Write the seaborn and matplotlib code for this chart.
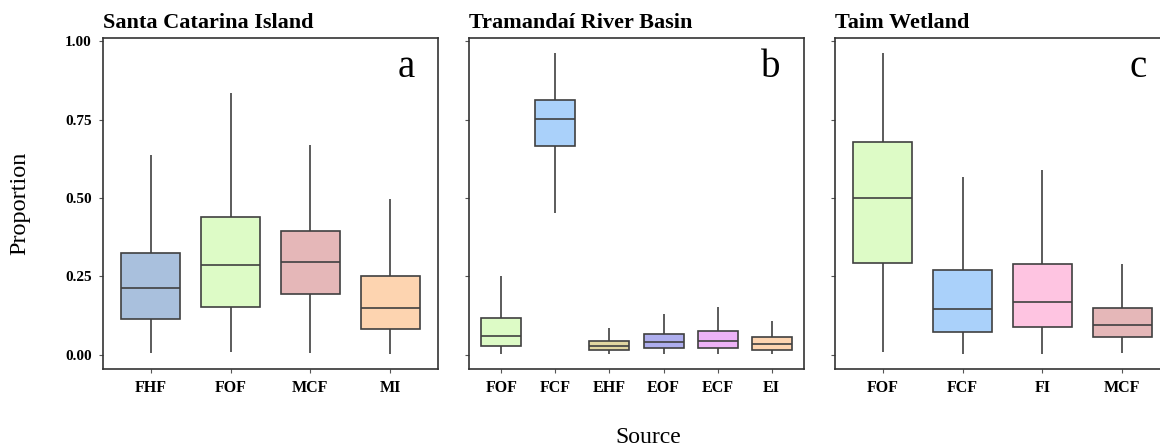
import numpy as np
import pandas as pd
import matplotlib
matplotlib.use("Agg")
import matplotlib.pyplot as plt
import seaborn as sns

# Five-number summaries per source: (min, Q1, median, Q3, max)
sci_sources = ["FHF", "FOF", "MCF", "MI"]
sci_min = [0.005, 0.007, 0.005, 0.002]
sci_q1 = [0.115, 0.152, 0.193, 0.082]
sci_med = [0.213, 0.286, 0.296, 0.149]
sci_q3 = [0.324, 0.439, 0.396, 0.252]
sci_max = [0.638, 0.835, 0.670, 0.497]

trb_sources = ["FOF", "FCF", "EHF", "EOF", "ECF", "EI"]
trb_min = [0.002, 0.452, 0.002, 0.002, 0.002, 0.002]
trb_q1 = [0.029, 0.667, 0.016, 0.020, 0.021, 0.016]
trb_med = [0.059, 0.752, 0.027, 0.039, 0.045, 0.034]
trb_q3 = [0.117, 0.812, 0.043, 0.066, 0.074, 0.055]
trb_max = [0.250, 0.963, 0.085, 0.130, 0.151, 0.108]

tw_sources = ["FOF", "FCF", "FI", "MCF"]
tw_min = [0.009, 0.002, 0.002, 0.004]
tw_q1 = [0.293, 0.073, 0.087, 0.055]
tw_med = [0.500, 0.147, 0.169, 0.095]
tw_q3 = [0.680, 0.271, 0.289, 0.149]
tw_max = [0.963, 0.566, 0.589, 0.289]

panel_titles = ["Santa Catarina Island", "Tramandaí River Basin", "Taim Wetland"]
panel_letters = ["a", "b", "c"]
y_ticks = [0.00, 0.25, 0.50, 0.75, 1.00]

source_colors = {
    "FHF": "#A9C0DD",
    "FOF": "#DDFBC6",
    "MCF": "#E5B7B8",
    "MI": "#FDD4B0",
    "FCF": "#AAD1FA",
    "EHF": "#E0D6A0",
    "EOF": "#AEAEEE",
    "ECF": "#EDB2F7",
    "EI": "#FDD4B0",
    "FI": "#FEC4E1",
}


def summary_frame(sources, mins, q1s, meds, q3s, maxs):
    # Five points per source reproduce the summary exactly with whiskers at min/max
    rows = []
    for s, a, b, c, d, e in zip(sources, mins, q1s, meds, q3s, maxs):
        for v in (a, b, c, d, e):
            rows.append({"Source": s, "Proportion": v})
    return pd.DataFrame(rows)


frames = [
    (summary_frame(sci_sources, sci_min, sci_q1, sci_med, sci_q3, sci_max), sci_sources),
    (summary_frame(trb_sources, trb_min, trb_q1, trb_med, trb_q3, trb_max), trb_sources),
    (summary_frame(tw_sources, tw_min, tw_q1, tw_med, tw_q3, tw_max), tw_sources),
]

sns.set_theme(style="white")
plt.rcParams["font.family"] = ["Liberation Serif", "DejaVu Serif"]
plt.rcParams["text.color"] = "black"
plt.rcParams["axes.labelcolor"] = "black"
plt.rcParams["xtick.labelcolor"] = "black"
plt.rcParams["ytick.labelcolor"] = "black"

W, H = 1160, 448
fig = plt.figure(figsize=(W / 100, H / 100), dpi=100)

ax_w = 335
lefts = [103, 469, 835]
top, bottom = 38, 369

edge = "#404040"
spine_col = "#333333"

for i, ((df, order), left) in enumerate(zip(frames, lefts)):
    ax = fig.add_axes([left / W, 1 - bottom / H, ax_w / W, (bottom - top) / H])
    sns.boxplot(
        data=df, x="Source", y="Proportion", hue="Source", order=order,
        hue_order=order, palette=source_colors, legend=False, ax=ax,
        whis=(0, 100), width=0.74, saturation=1, showcaps=False,
        showfliers=False, linecolor=edge, linewidth=1.2,
    )
    ax.set_xlim(-0.6, len(order) - 0.4)
    ax.set_ylim(-0.046, 1.011)
    ax.set_yticks(y_ticks)
    if i == 0:
        ax.set_yticklabels([f"{t:.2f}" for t in y_ticks], fontsize=11, fontweight="bold")
    else:
        ax.set_yticklabels([])
    for lab in ax.get_xticklabels():
        lab.set_fontsize(11.5)
        lab.set_fontweight("bold")
    ax.set_xlabel("")
    ax.set_ylabel("")
    ax.tick_params(axis="both", which="major", direction="out", length=3,
                   width=0.8, color="#555555", labelcolor="black", pad=5,
                   bottom=True, left=True)
    for sp in ax.spines.values():
        sp.set_color(spine_col)
        sp.set_linewidth(1.2)
        sp.set_visible(True)
    ax.set_title(panel_titles[i], loc="left", fontsize=16, fontweight="bold",
                 pad=7, color="black")
    ax.text(0.93, 0.882, panel_letters[i], transform=ax.transAxes,
            ha="right", va="baseline", fontsize=28, color="black")

fig.text(20 / W, 1 - 203 / H, "Proportion", rotation=90, ha="center",
         va="center", fontsize=17.5, color="black")
fig.text(648 / W, 1 - 437 / H, "Source", ha="center", va="center",
         fontsize=17, color="black")

fig.savefig("out.png", dpi=100)
